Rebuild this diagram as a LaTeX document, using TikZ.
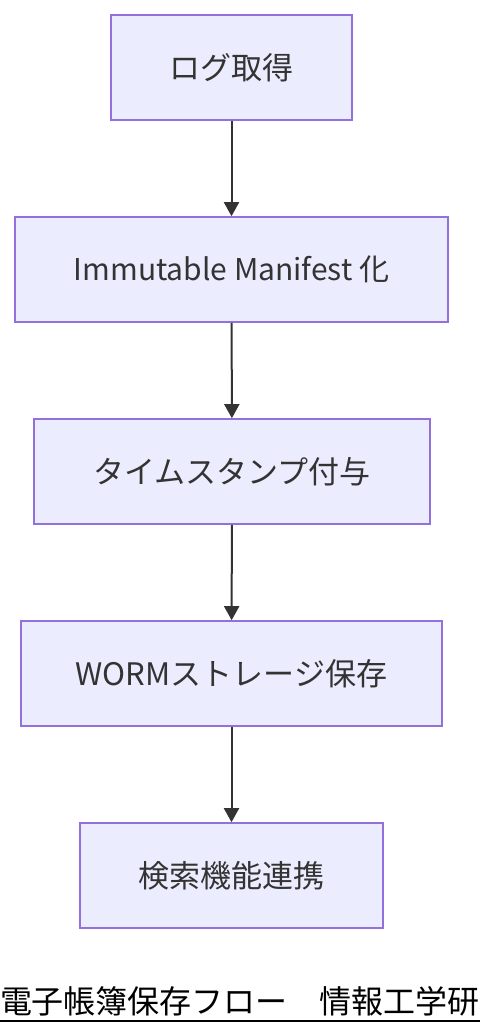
\documentclass[tikz,border=0pt]{standalone}
\usepackage{fontspec}
\setmainfont{Noto Sans CJK JP}
\usetikzlibrary{arrows.meta}
\definecolor{boxfill}{HTML}{ECECFF}
\definecolor{boxline}{HTML}{9370DB}
\definecolor{edge}{HTML}{333333}
\tikzset{
  stepbox/.style={draw=boxline,fill=boxfill,line width=1.6pt,inner sep=0pt,
    minimum height=105pt,text=edge,font=\fontsize{31}{36}\selectfont},
  flow/.style={edge,line width=2pt,-{Triangle[length=14pt,width=15pt]}}
}
\begin{document}
\begin{tikzpicture}[x=1pt,y=-1pt]
  \useasboundingbox (0,0) rectangle (480,1036);
  % Steps
  \node[stepbox,minimum width=241pt] (log) at (231.5,67.5) {ログ取得};
  \node[stepbox,minimum width=433pt,font=\fontsize{30}{34}\selectfont] (manifest) at (231.5,269.5) {Immutable Manifest 化};
  \node[stepbox,minimum width=396pt] (stamp) at (232,471.5) {タイムスタンプ付与};
  \node[stepbox,minimum width=421pt] (worm) at (231.5,673.5) {WORMストレージ保存};
  \node[stepbox,minimum width=303pt] (search) at (231.5,875.5) {検索機能連携};

  % Connectors
  \draw[flow] (log) -- (manifest);
  \draw[flow] (manifest) -- (stamp);
  \draw[flow] (stamp) -- (worm);
  \draw[flow] (worm) -- (search);

  % Title
  \node[font=\fontsize{32}{36}\selectfont,inner sep=0pt] (title) at (240,1001) {電子帳簿保存フロー　情報工学研};
  \draw[line width=2pt] (0,1021) -- (480,1021);
\end{tikzpicture}
\end{document}
